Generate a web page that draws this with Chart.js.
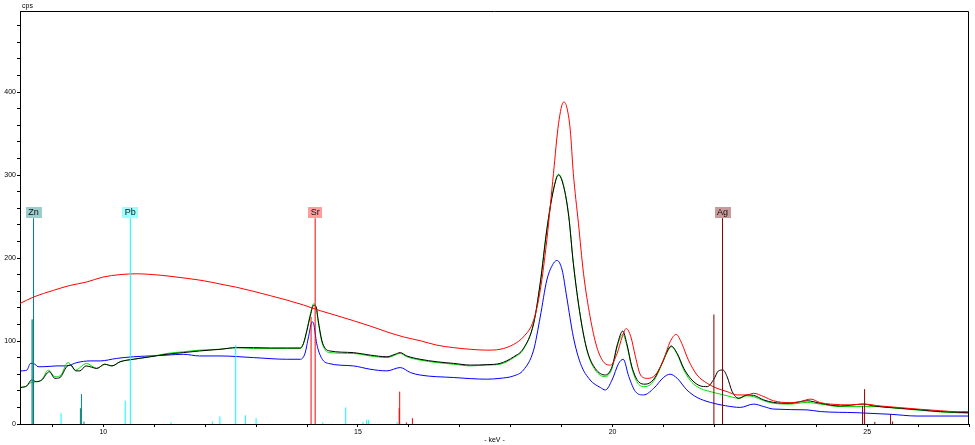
<!DOCTYPE html>
<html>
<head>
<meta charset="utf-8">
<title>Spectrum</title>
<script src="https://cdn.jsdelivr.net/npm/chart.js@4.4.0/dist/chart.umd.min.js"></script>
<style>
  html, body { margin: 0; padding: 0; background: #fff; }
  #wrap { width: 975px; height: 445px; position: relative; }
</style>
</head>
<body>
<div id="wrap"><canvas id="spectrum"></canvas></div>
<script>
// Measured spectra, [keV, cps]
const redSpectrum = [
  [8.36,145],[8.63,153],[9.02,161],[9.35,167],[9.67,171],[9.99,177],[10.33,180],[10.66,181],
  [10.98,180],[11.31,178],[11.64,175.5],[11.96,172.7],[12.29,168.7],[12.62,164.7],[12.94,160],
  [13.28,154.6],[13.60,149.4],[13.93,143.4],[14.26,136.5],[14.59,130.5],[14.91,124.5],[15.24,118],
  [15.57,111],[15.89,105],[16.22,100.4],[16.55,95],[16.88,92],[17.21,90],[17.53,89],[17.79,90],
  [18.06,96],[18.25,105],[18.45,125],[18.58,161],[18.71,222],[18.84,302],[18.94,362],[19.04,388],
  [19.10,382],[19.17,354],[19.23,302],[19.33,242],[19.43,181.5],[19.56,129],[19.69,93],[19.82,75],
  [19.96,71],[20.09,85],[20.19,105],[20.27,115],[20.36,105],[20.45,81],[20.55,59],[20.68,55],
  [20.84,59],[21.00,77],[21.13,99],[21.25,108],[21.36,97],[21.49,77],[21.66,59],[21.86,49],
  [22.05,43],[22.25,39],[22.45,35],[22.64,35],[22.77,37],[22.97,33],[23.16,28],[23.49,25.7],
  [23.69,27],[23.89,30],[24.08,25.7],[24.28,24],[24.67,23],[24.93,24],[25.26,21.7],[25.65,19.7],
  [26.05,17.7],[26.44,16],[26.77,14.8],[27.00,14.8]
];
const blackSpectrum = [
  [8.38,44],[8.50,46],[8.59,53],[8.69,51],[8.79,53],[8.94,63],[9.05,55],[9.15,56],[9.28,69],
  [9.36,71],[9.46,64],[9.54,64],[9.66,70],[9.74,69],[9.87,67],[10.03,72],[10.17,70],[10.33,75],
  [10.59,78],[10.92,81],[11.25,84],[11.57,86],[11.89,88],[12.29,90],[12.62,92],[12.95,92],
  [13.28,91.6],[13.60,91.6],[13.87,91.6],[13.93,97],[14.00,113],[14.06,129],[14.13,143],[14.18,141],
  [14.22,125],[14.29,101],[14.36,91],[14.45,88],[14.91,86],[15.24,83],[15.57,81],[15.73,84],
  [15.83,86],[15.96,82],[16.22,78],[16.55,75],[16.88,73],[17.21,71],[17.53,71.5],[17.79,73],
  [18.06,81],[18.25,91],[18.45,121],[18.58,169.5],[18.71,234],[18.84,282],[18.94,300],[19.04,286],
  [19.14,250],[19.23,193.6],[19.37,129],[19.50,89],[19.66,67],[19.86,59],[19.99,69],[20.10,97],
  [20.20,112],[20.28,97],[20.38,69],[20.51,51],[20.64,48],[20.81,54],[20.97,73],[21.07,87],
  [21.15,94],[21.27,85],[21.40,67],[21.56,53],[21.72,46],[21.86,45],[21.99,54],[22.08,64],
  [22.17,65],[22.25,57],[22.35,39],[22.48,31],[22.64,35],[22.77,34.5],[22.97,29],[23.16,26],
  [23.49,25],[23.82,28],[24.08,25],[24.47,21.7],[24.93,24],[25.13,21.7],[25.65,19],[26.05,17],
  [26.44,15],[27.00,13.6]
];
const greenSpectrum = [
  [8.38,44],[8.50,46],[8.55,49],[8.69,51],[8.79,53],[8.92,65],[9.05,57],[9.15,58],[9.31,74],
  [9.45,65],[9.67,73],[9.87,67],[10.03,72],[10.17,70],[10.33,75],[10.59,78],[10.92,81],[11.25,85],
  [11.57,87],[11.89,89],[12.29,90],[12.62,92],[12.95,91],[13.28,91],[13.60,91],[13.87,91],
  [13.93,97],[14.00,114],[14.06,131],[14.13,145],[14.18,140],[14.22,123],[14.29,99],[14.36,89],
  [14.45,86],[14.91,85],[15.24,82],[15.57,80],[15.73,83],[15.83,85],[15.96,81],[16.22,77],
  [16.55,74],[16.88,72],[17.21,70],[17.53,71],[17.79,72],[18.06,80],[18.25,90],[18.45,121],
  [18.58,170],[18.71,235],[18.84,283],[18.94,301],[19.04,287],[19.14,251],[19.23,194],[19.37,129],
  [19.50,88],[19.66,65],[19.86,57],[19.99,67],[20.10,95],[20.20,108],[20.28,95],[20.38,67],
  [20.51,48],[20.64,45],[20.81,52],[20.97,72],[21.07,86],[21.15,93],[21.27,84],[21.40,65],
  [21.56,50],[21.72,43],[21.86,40],[22.05,37],[22.25,34],[22.48,31],[22.64,34],[22.77,33],
  [22.97,28],[23.16,25],[23.49,24],[23.82,26],[24.08,24],[24.47,21],[24.93,21],[25.13,21],
  [25.65,18.5],[26.05,16.5],[26.44,14.5],[27.00,13]
];
const blueSpectrum = [
  [8.38,64],[8.50,65],[8.57,73],[8.63,73],[8.72,69],[8.82,69],[9.09,70],[9.28,70],[9.48,74],
  [9.74,76],[9.94,76],[10.26,79],[10.59,81],[10.92,82],[11.25,83],[11.57,84],[11.89,82],[12.29,82],
  [12.95,80],[13.60,78],[13.87,78],[13.96,85],[14.03,105],[14.10,123],[14.13,121],[14.19,97],
  [14.29,79],[14.42,73],[14.91,70],[15.24,66],[15.57,64],[15.83,68],[16.03,62],[16.22,59],
  [16.88,56],[17.53,54],[17.79,55],[18.06,58],[18.25,65],[18.45,89],[18.58,129],[18.71,173.5],
  [18.84,193.6],[18.91,197],[19.01,185.5],[19.10,153],[19.23,105],[19.37,73],[19.56,53],[19.76,44],
  [19.86,41],[19.99,53],[20.12,73],[20.21,78],[20.32,57],[20.45,39],[20.61,35],[20.81,43],
  [21.00,56],[21.13,60],[21.27,55],[21.46,41],[21.66,32],[21.92,26],[22.22,22],[22.51,20],
  [22.77,24],[22.97,21],[23.16,18],[23.82,17],[24.08,15],[24.80,13.6],[25.46,11.7],[25.98,9.6],
  [26.77,9.6],[27.00,9.6]
];

// Emission line sticks, [keV, cps]
const znLines = [[8.60,126],[8.62,126],[9.55,19],[9.57,36],[9.62,3]];
const pbLines = [[9.17,13],[10.43,28],[11.33,2],[12.14,3],[12.29,9],[12.60,95],[12.79,10.5],
  [13.00,7],[14.31,2],[14.76,20],[15.10,2.5],[15.17,5],[15.21,5],[15.77,2.5]];
const srLines = [[14.08,129],[15.81,19],[15.82,39],[15.95,2],[16.07,7]];
const agLines = [[21.99,132],[24.91,22],[24.95,42],[25.15,2.5],[25.46,12],[25.50,3]];

// Element markers
const elementNames = ['Zn', 'Pb', 'Sr', 'Ag'];
const elementKeV = [8.63, 10.53, 14.16, 22.16];
const markerTop = 248;

const xTickLabels = [10, 15, 20, 25];
const yTickLabels = [0, 100, 200, 300, 400];

const lineColors = ['#008080', '#00ffff', '#ff0000', '#800000'];
const boxColors = ['#9ccccc', '#9cffff', '#ff9c9c', '#c99a9a'];

function toPoints(pairs) {
  return pairs.map(p => ({ x: p[0], y: p[1] }));
}

// each stick is a vertical segment from 0 up to its height, separated by gaps
function toSticks(pairs) {
  const pts = [];
  pairs.forEach(p => {
    pts.push({ x: p[0], y: 0 }, { x: p[0], y: p[1] }, { x: p[0], y: null });
  });
  return pts;
}

const stickGroups = [znLines, pbLines, srLines, agLines];

const stickSets = stickGroups.map((lines, i) => ({
  data: toSticks(lines.concat([[elementKeV[i], markerTop]])),
  borderColor: lineColors[i],
  borderWidth: 1,
  pointRadius: 0,
  tension: 0,
  spanGaps: false
}));

const curve = (pairs, color) => ({
  data: toPoints(pairs),
  borderColor: color,
  borderWidth: 1,
  pointRadius: 0,
  cubicInterpolationMode: 'monotone'
});

const labelsPlugin = {
  id: 'labels',
  afterDatasetsDraw(chart) {
    const { ctx, chartArea, scales } = chart;
    ctx.save();
    // top and right frame
    ctx.strokeStyle = '#000';
    ctx.lineWidth = 1;
    const t = Math.round(chartArea.top) + 0.5;
    const r = Math.round(chartArea.right) - 0.5;
    ctx.beginPath();
    ctx.moveTo(chartArea.left, t);
    ctx.lineTo(r, t);
    ctx.lineTo(r, chartArea.bottom);
    ctx.stroke();

    // element label boxes
    ctx.font = '9px "Liberation Sans", Arial, sans-serif';
    ctx.textAlign = 'center';
    ctx.textBaseline = 'middle';
    elementNames.forEach((name, i) => {
      const x = scales.x.getPixelForValue(elementKeV[i]);
      const y = Math.round(scales.y.getPixelForValue(markerTop));
      const w = Math.round(ctx.measureText(name).width + 5);
      ctx.fillStyle = boxColors[i];
      ctx.fillRect(Math.round(x - w / 2), y - 11, w, 11);
      ctx.fillStyle = '#111';
      ctx.fillText(name, x, y - 5);
    });

    // unit label
    ctx.font = '7px "Liberation Sans", Arial, sans-serif';
    ctx.textAlign = 'left';
    ctx.fillStyle = '#000';
    ctx.fillText('cps', chartArea.left + 2, chartArea.top - 5);
    ctx.restore();
  }
};

new Chart(document.getElementById('spectrum'), {
  type: 'line',
  data: {
    datasets: stickSets.concat([
      curve(redSpectrum, '#ff0000'),
      curve(blackSpectrum, '#000000'),
      curve(greenSpectrum, '#00e000'),
      curve(blueSpectrum, '#0000ff')
    ])
  },
  options: {
    responsive: true,
    maintainAspectRatio: false,
    devicePixelRatio: 1,
    animation: false,
    events: [],
    layout: { padding: { top: 11, right: 6, left: 0, bottom: 0 } },
    plugins: {
      legend: { display: false },
      tooltip: { enabled: false }
    },
    scales: {
      x: {
        type: 'linear',
        min: 8.364,
        max: 27.0,
        afterFit(scale) { scale.height = 21; },
        border: { display: true, color: '#000', width: 1 },
        grid: { drawOnChartArea: false, drawTicks: true, tickLength: 3, color: '#000' },
        ticks: {
          stepSize: 1,
          includeBounds: false,
          autoSkip: false,
          maxRotation: 0,
          padding: 1,
          color: '#000',
          font: { size: 7, family: '"Liberation Sans", Arial, sans-serif' },
          callback: v => xTickLabels.includes(v) ? String(v) : ''
        },
        title: {
          display: true,
          text: '- keV -',
          color: '#000',
          font: { size: 7, family: '"Liberation Sans", Arial, sans-serif' },
          padding: { top: 0, bottom: 1 }
        }
      },
      y: {
        min: 0,
        max: 497.6,
        afterFit(scale) { scale.width = 20; },
        border: { display: true, color: '#000', width: 1 },
        grid: { drawOnChartArea: false, drawTicks: true, tickLength: 3, color: '#000' },
        ticks: {
          stepSize: 20,
          includeBounds: false,
          autoSkip: false,
          padding: 1,
          color: '#000',
          font: { size: 7, family: '"Liberation Sans", Arial, sans-serif' },
          callback: v => yTickLabels.includes(v) ? String(v) : ''
        }
      }
    }
  },
  plugins: [labelsPlugin]
});
</script>
</body>
</html>
